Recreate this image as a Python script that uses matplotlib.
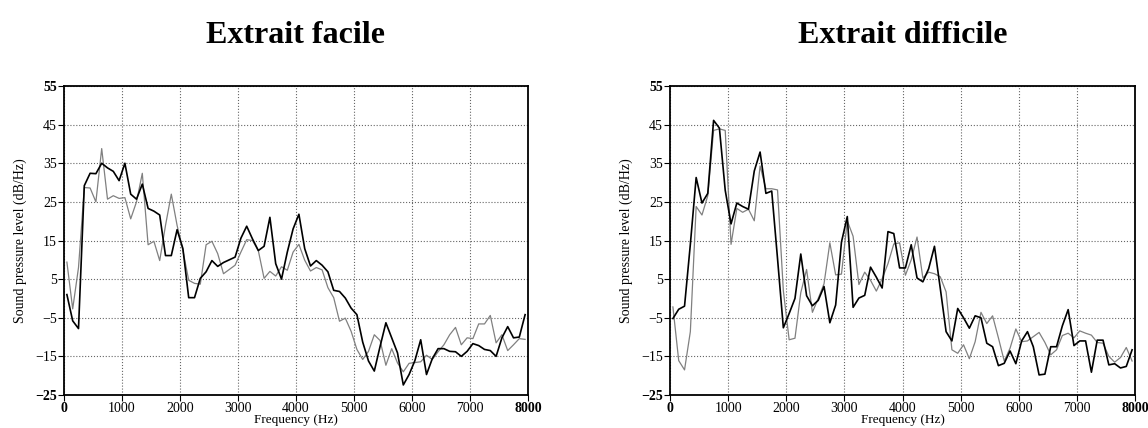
import numpy as np
import matplotlib
matplotlib.use('Agg')
import matplotlib.pyplot as plt

plt.rcParams['font.family'] = ['Liberation Serif', 'DejaVu Serif']

# frequency bins (Hz), one every 100 Hz
freq = np.arange(80) * 100 + 50

# "Extrait facile"
easy_black = [1.0, -5.8, -7.8, 29.2, 32.4, 32.3, 35.0, 33.8, 32.9, 30.5,
              35.0, 27.0, 25.7, 29.6, 23.3, 22.6, 21.6, 11.1, 11.1, 17.8,
              12.9, 0.2, 0.2, 5.2, 6.9, 9.8, 8.3, 9.3, 10.0, 10.7,
              15.6, 18.7, 15.4, 12.4, 13.5, 21.0, 9.0, 5.0, 12.0, 18.0,
              21.8, 12.9, 8.4, 9.8, 8.6, 6.9, 2.1, 1.8, 0.1, -2.5,
              -4.2, -11.3, -16.2, -18.8, -12.4, -6.3, -10.2, -14.1, -22.4, -19.7,
              -16.1, -10.7, -19.7, -15.6, -13.0, -13.0, -13.7, -13.8, -15.0, -13.7,
              -11.7, -12.2, -13.2, -13.5, -15.0, -10.2, -7.3, -10.2, -10.0, -4.2]
easy_gray = [9.4, -2.7, 8.0, 28.7, 28.6, 25.0, 38.8, 25.7, 26.6, 25.9,
             26.1, 20.6, 25.0, 32.4, 13.9, 14.8, 9.8, 18.9, 27.0, 18.9,
             12.4, 4.7, 3.9, 3.7, 13.9, 14.8, 11.6, 6.4, 7.5, 8.6,
             12.0, 15.2, 15.0, 12.4, 5.2, 7.0, 5.8, 8.2, 7.3, 12.0,
             14.0, 9.9, 7.1, 8.0, 7.4, 2.8, 0.2, -5.9, -5.1, -8.5,
             -13.2, -15.8, -13.7, -9.4, -10.9, -17.3, -13.0, -16.7, -19.0, -16.8,
             -16.6, -16.4, -14.7, -15.8, -13.8, -12.0, -9.4, -7.5, -12.0, -10.2,
             -10.4, -6.6, -6.6, -4.4, -11.5, -9.4, -13.5, -12.0, -10.4, -10.6]

# "Extrait difficile"
hard_black = [-5.2, -2.8, -2.0, 14.0, 31.3, 24.7, 27.2, 46.1, 44.1, 28.0,
              19.3, 24.7, 23.8, 23.1, 33.0, 37.9, 27.2, 27.8, 10.3, -7.6,
              -3.9, 0.0, 11.5, 0.7, -1.9, -0.5, 3.1, -6.3, -1.7, 14.6,
              21.2, -2.3, 0.1, 0.8, 8.1, 5.5, 2.7, 17.3, 16.8, 7.9,
              7.9, 13.9, 5.3, 4.3, 7.7, 13.5, 2.6, -8.6, -11.0, -2.6,
              -5.0, -7.7, -4.5, -5.0, -11.6, -12.5, -17.4, -16.8, -13.6, -16.9,
              -11.0, -8.6, -12.5, -19.8, -19.6, -12.5, -12.5, -7.1, -2.9, -12.2,
              -11.0, -11.0, -19.1, -10.8, -10.8, -17.2, -16.9, -18.0, -17.6, -13.3]
hard_gray = [-2.2, -16.1, -18.5, -8.6, 23.8, 21.6, 26.6, 43.5, 43.9, 43.5,
             14.0, 23.3, 22.3, 23.1, 20.1, 34.3, 28.4, 28.4, 28.1, 2.0,
             -10.7, -10.3, 1.5, 7.5, -3.6, 0.0, 3.8, 14.4, 6.1, 6.3,
             20.1, 16.1, 3.6, 6.8, 4.7, 1.9, 5.1, 9.0, 14.1, 14.4,
             6.0, 10.0, 15.9, 5.3, 6.8, 6.4, 5.6, 1.7, -13.3, -14.2,
             -12.0, -15.6, -11.2, -3.6, -6.5, -4.5, -10.2, -16.2, -12.9, -7.9,
             -11.2, -11.0, -9.9, -8.8, -11.4, -14.6, -13.3, -9.6, -9.0, -10.2,
             -8.4, -9.0, -9.5, -11.4, -11.6, -15.0, -16.5, -15.3, -12.7, -16.2]

titles = ['Extrait facile', 'Extrait difficile']
xticks = [0, 1000, 2000, 3000, 4000, 5000, 6000, 7000, 8000]
yticks = [-25, -15, -5, 5, 15, 25, 35, 45, 55]

fig = plt.figure(figsize=(11.48, 4.28), dpi=100)
ax1 = fig.add_axes([64 / 1148, 33 / 428, 464 / 1148, 309 / 428])
ax2 = fig.add_axes([670 / 1148, 33 / 428, 465 / 1148, 309 / 428])

for ax, black, gray, title in [(ax1, easy_black, easy_gray, titles[0]),
                               (ax2, hard_black, hard_gray, titles[1])]:
    ax.plot(freq, gray, color='#808080', lw=0.9)
    ax.plot(freq, black, color='black', lw=1.2)
    ax.set_xlim(0, 8000)
    ax.set_ylim(-25, 55)
    ax.set_xticks(xticks)
    ax.set_yticks(yticks)
    ax.grid(True, ls=':', color='0.4', lw=0.8)
    ax.tick_params(direction='out', length=4, width=0.8, labelsize=10, pad=1)
    for lab in [ax.get_xticklabels()[0], ax.get_xticklabels()[-1],
                ax.get_yticklabels()[0], ax.get_yticklabels()[-1]]:
        lab.set_fontweight('bold')
    for sp in ax.spines.values():
        sp.set_linewidth(1.3)
    ax.set_xlabel('Frequency (Hz)', fontsize=9.5, labelpad=-0.5)
    ax.set_ylabel('Sound pressure level (dB/Hz)', fontsize=10, labelpad=6)
    bb = ax.get_position()
    fig.text((bb.x0 + bb.x1) / 2, 1 - 43 / 428, title, ha='center', va='baseline',
             fontsize=23, fontweight='bold')

fig.savefig('out.png', dpi=100)
